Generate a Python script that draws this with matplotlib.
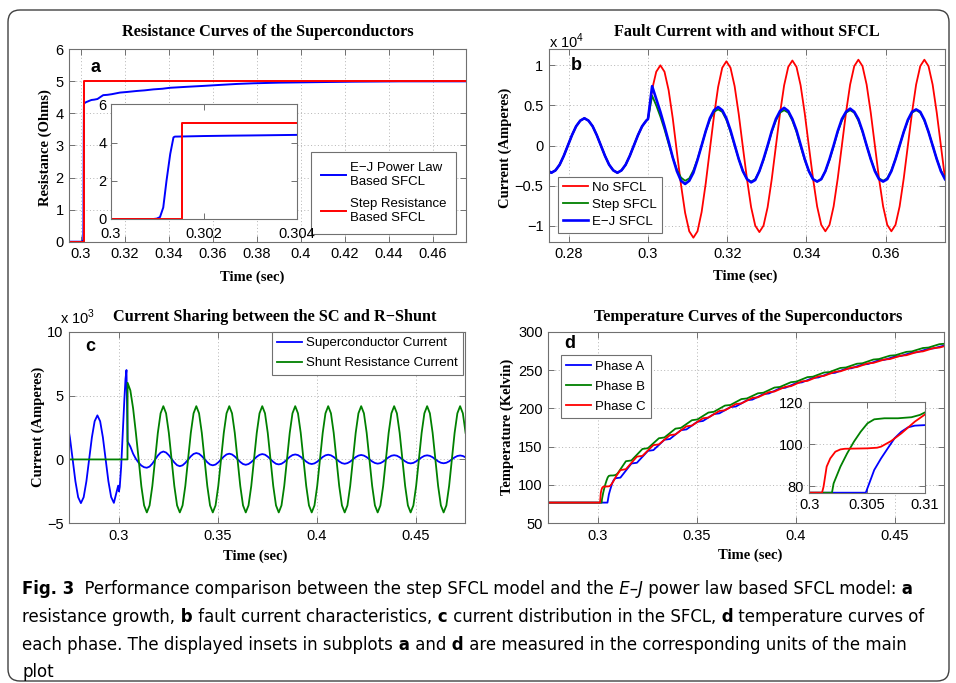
import numpy as np
import matplotlib
matplotlib.use("Agg")
import matplotlib.pyplot as plt
from matplotlib import font_manager
from matplotlib.ticker import FuncFormatter
from matplotlib.patches import FancyBboxPatch
from matplotlib.transforms import IdentityTransform

plt.rcParams['font.family'] = ['Liberation Sans', 'DejaVu Sans']
plt.rcParams['mathtext.fontset'] = 'custom'
plt.rcParams['mathtext.rm'] = 'Liberation Sans'

RED, GREEN, BLUE = '#ff0000', '#008000', '#0000ff'
FRAME = '#707070'
SERIF = 'Liberation Serif'

# ---------------- (a) resistance of the superconductor ----------------
t_ej = [0.2947, 0.30092, 0.30099, 0.30106, 0.30113, 0.30120, 0.30128, 0.30135,
        0.30138, 0.3016, 0.3020, 0.3026, 0.3030, 0.3040, 0.3048, 0.3060, 0.3075,
        0.3090, 0.3101, 0.3120, 0.3140, 0.3177, 0.3210, 0.3253, 0.3290, 0.3329,
        0.3370, 0.3405, 0.3480, 0.3560, 0.3633, 0.3710, 0.3784, 0.3900, 0.4011,
        0.4120, 0.4239, 0.4350, 0.4450, 0.4600, 0.4750]
r_ej = [0, 0, 0.02, 0.10, 0.6, 2.0, 3.4, 4.27,
        4.31, 4.32, 4.34, 4.36, 4.37, 4.40, 4.42, 4.43, 4.45,
        4.52, 4.57, 4.58, 4.60, 4.65, 4.67, 4.70, 4.72, 4.75,
        4.77, 4.80, 4.83, 4.86, 4.89, 4.92, 4.94, 4.96, 4.97,
        4.98, 4.99, 4.995, 5.0, 5.0, 5.0]
t_step = [0.2947, 0.30154, 0.30154, 0.475]
r_step = [0, 0, 5, 5]

# ---------------- (b) fault current, x 10^4 A ----------------
DT_B = (1 / 60) / 16
t0_pre_b = 0.27456
t0_flt_b = 0.3
pre_b = [-0.31, -0.34, -0.31, -0.24, -0.13, 0.0, 0.13, 0.24, 0.31, 0.34, 0.31,
         0.24, 0.13, 0.0, -0.13, -0.24, -0.31, -0.34, -0.31, -0.24, -0.13, 0.0,
         0.13, 0.24, 0.31]
no_sfcl = [0.33, 0.70, 0.92, 1.00, 0.92, 0.69, 0.34, -0.08, -0.49, -0.84, -1.07, -1.15,
           -1.07, -0.83, -0.47, -0.05, 0.37, 0.73, 0.97, 1.05,
           0.97, 0.74, 0.39, -0.02, -0.42, -0.77, -1.00, -1.08,
           -1.00, -0.77, -0.42, -0.01, 0.40, 0.75, 0.98, 1.06,
           0.98, 0.75, 0.40, -0.01, -0.41, -0.76, -0.99, -1.07,
           -0.99, -0.76, -0.41, 0.00, 0.41, 0.76, 0.99, 1.07,
           0.99, 0.76, 0.41, 0.00, -0.41, -0.76, -0.99, -1.07,
           -0.99, -0.76, -0.41, 0.00, 0.41, 0.76, 0.99, 1.07,
           0.99, 0.76, 0.41, 0.00, -0.41]
step_sfcl = [0.33, 0.62, 0.50, 0.36, 0.20, 0.02, -0.15, -0.30, -0.40, -0.44,
             -0.41, -0.31, -0.17, 0.0, 0.18, 0.32, 0.42, 0.45,
             0.42, 0.32, 0.17, 0.0, -0.17, -0.32, -0.42, -0.45,
             -0.42, -0.32, -0.18, -0.01, 0.17, 0.31, 0.41, 0.44,
             0.41, 0.31, 0.17, -0.01, -0.18, -0.32, -0.42, -0.45,
             -0.42, -0.32, -0.18, -0.01, 0.17, 0.31, 0.41, 0.44,
             0.41, 0.31, 0.17, 0.0, -0.17, -0.31, -0.41, -0.44,
             -0.41, -0.31, -0.17, 0.0, 0.17, 0.31, 0.41, 0.44,
             0.41, 0.31, 0.17, 0.0, -0.17, -0.31, -0.41]
ej_sfcl = [0.33, 0.74, 0.58, 0.42, 0.24, 0.05, -0.15, -0.32, -0.44, -0.48,
           -0.44, -0.34, -0.18, 0.0, 0.18, 0.34, 0.44, 0.48,
           0.44, 0.34, 0.19, 0.01, -0.17, -0.32, -0.42, -0.46,
           -0.43, -0.32, -0.17, 0.0, 0.18, 0.33, 0.43, 0.47,
           0.43, 0.33, 0.19, 0.01, -0.17, -0.32, -0.42, -0.45,
           -0.42, -0.32, -0.17, 0.0, 0.18, 0.33, 0.42, 0.46,
           0.42, 0.33, 0.18, 0.0, -0.17, -0.32, -0.42, -0.45,
           -0.42, -0.32, -0.17, 0.0, 0.17, 0.32, 0.42, 0.45,
           0.42, 0.32, 0.17, 0.0, -0.17, -0.32, -0.42]

# ---------------- (c) current sharing, x 10^3 A ----------------
DT_C = (1 / 60) / 12
t0_c = 0.27253
sc_pre = [3.42, 2.96, 1.71, 0.0, -1.71, -2.96, -3.42, -2.96, -1.71, 0.0, 1.73,
          2.99, 3.45, 2.99, 1.73, 0.0, -1.70, -2.94, -3.40]
t_sc_quench = [0.2993, 0.2997, 0.3001, 0.3005, 0.3012, 0.3020, 0.3028, 0.3034, 0.3039]
sc_quench = [-2.27, -2.05, -2.5, -2.15, -0.6, 2.0, 4.6, 6.3, 7.0]
t0_post_c = 0.30447
sc_post = [1.40, 1.00, 0.45, 0.05, -0.25, -0.48, -0.61, -0.65,
           -0.56, -0.33, -0.02, 0.30, 0.53, 0.62,
           0.54, 0.33, 0.05, -0.24, -0.45, -0.53,
           -0.46, -0.27, -0.02, 0.24, 0.43, 0.50,
           0.44, 0.26, 0.02, -0.22, -0.40, -0.46,
           -0.40, -0.23, -0.01, 0.22, 0.39, 0.45,
           0.39, 0.23, 0.02, -0.20, -0.36, -0.42,
           -0.36, -0.21, 0.0, 0.21, 0.36, 0.42,
           0.37, 0.22, 0.02, -0.19, -0.34, -0.39,
           -0.34, -0.20, 0.0, 0.20, 0.34, 0.39,
           0.34, 0.20, 0.02, -0.17, -0.31, -0.36,
           -0.31, -0.18, 0.01, 0.19, 0.32, 0.37,
           0.32, 0.19, 0.02, -0.16, -0.29, -0.34,
           -0.29, -0.17, 0.01, 0.18, 0.30, 0.35,
           0.30, 0.18, 0.01, -0.16, -0.28, -0.33,
           -0.29, -0.17, 0.0, 0.17, 0.29, 0.33,
           0.29, 0.17, 0.01, -0.15, -0.27, -0.31,
           -0.27, -0.15, 0.01, 0.16, 0.28, 0.32,
           0.28, 0.17, 0.01, -0.15, -0.26, -0.30,
           -0.26, -0.15, 0.0, 0.16, 0.27, 0.31,
           0.27, 0.16]
t_shunt_pre = [0.27253, 0.30440]
shunt_pre = [0.0, 0.0]
shunt_post = [6.00, 5.40, 4.00, 2.10, 0.05, -2.10, -3.60, -4.15,
              -3.60, -2.08, 0.0, 2.08, 3.61, 4.17, 3.61, 2.08, 0.0, -2.08, -3.60, -4.15,
              -3.60, -2.08, 0.0, 2.08, 3.61, 4.17, 3.61, 2.08, 0.0, -2.08, -3.60, -4.15,
              -3.60, -2.08, 0.0, 2.08, 3.61, 4.17, 3.61, 2.08, 0.0, -2.08, -3.60, -4.15,
              -3.60, -2.08, 0.0, 2.08, 3.61, 4.17, 3.61, 2.08, 0.0, -2.08, -3.60, -4.15,
              -3.60, -2.08, 0.0, 2.08, 3.61, 4.17, 3.61, 2.08, 0.0, -2.08, -3.60, -4.15,
              -3.60, -2.08, 0.0, 2.08, 3.61, 4.17, 3.61, 2.08, 0.0, -2.08, -3.60, -4.15,
              -3.60, -2.08, 0.0, 2.08, 3.61, 4.17, 3.61, 2.08, 0.0, -2.08, -3.60, -4.15,
              -3.60, -2.08, 0.0, 2.08, 3.61, 4.17, 3.61, 2.08, 0.0, -2.08, -3.60, -4.15,
              -3.60, -2.08, 0.0, 2.08, 3.61, 4.17, 3.61, 2.08, 0.0, -2.08, -3.60, -4.15,
              -3.60, -2.08, 0.0, 2.08, 3.61, 4.17,
              3.61, 2.08]

# ---------------- (d) temperature, K ----------------
t_phase_a = [0.275, 0.30488, 0.30518, 0.30561, 0.3062, 0.30678, 0.30737, 0.30795,
             0.30854, 0.30912, 0.31015, 0.31142, 0.31698, 0.31976, 0.32531, 0.32809,
             0.33364, 0.33642, 0.34198, 0.34476, 0.35031, 0.35309, 0.35864, 0.36142,
             0.36698, 0.36976, 0.37531, 0.37809, 0.38364, 0.38642, 0.39198, 0.39476,
             0.40031, 0.40309, 0.40864, 0.41142, 0.41698, 0.41976, 0.42531, 0.42809,
             0.43364, 0.43642, 0.44198, 0.44476, 0.45031, 0.45309, 0.45864, 0.46142,
             0.46698, 0.46976, 0.47531]
temp_a = [77, 77, 81.4, 87.8, 93.3, 98.1, 102.9, 106.0,
          108.1, 108.9, 109.2, 109.6, 128.0, 129.0, 144.5, 145.5,
          159.0, 160.0, 171.5, 172.5, 182.5, 183.5, 192.5, 193.5,
          201.6, 202.4, 210.6, 211.4, 218.6, 219.4, 226.1, 226.9,
          233.1, 233.9, 239.7, 240.3, 245.7, 246.3, 251.7, 252.3,
          257.2, 257.8, 262.7, 263.3, 267.7, 268.3, 272.7, 273.3,
          277.7, 278.3, 282.2]
t_phase_b = [0.275, 0.30196, 0.3021, 0.30269, 0.30327, 0.30386, 0.30444, 0.30503,
             0.30561, 0.30649, 0.30766, 0.30883, 0.30956, 0.31015, 0.3142, 0.31698,
             0.32254, 0.32532, 0.33087, 0.33365, 0.33921, 0.34199, 0.34754, 0.35032,
             0.35587, 0.35865, 0.36421, 0.36699, 0.37254, 0.37532, 0.38087, 0.38365,
             0.38921, 0.39199, 0.39754, 0.40032, 0.40587, 0.40865, 0.41421, 0.41699,
             0.42254, 0.42532, 0.43087, 0.43365, 0.43921, 0.44199, 0.44754, 0.45032,
             0.45587, 0.45865, 0.46421, 0.46699, 0.47254, 0.47532]
temp_b = [77, 77, 81.4, 89.4, 95.7, 101.3, 106.0, 110.0,
          111.9, 112.4, 112.4, 112.9, 114.0, 115.6, 131.0, 132.0,
          147.0, 148.0, 161.0, 162.0, 173.5, 174.5, 184.5, 185.5,
          194.5, 195.5, 203.6, 204.4, 212.1, 212.9, 219.6, 220.4,
          227.1, 227.9, 234.1, 234.9, 240.7, 241.3, 246.7, 247.3,
          252.7, 253.3, 258.2, 258.8, 263.7, 264.3, 268.7, 269.3,
          273.7, 274.3, 278.7, 279.3, 283.7, 284.3]
t_phase_c = [0.275, 0.3011, 0.30123, 0.3015, 0.30181, 0.30225, 0.30269, 0.30308,
             0.30503, 0.30586, 0.3062, 0.30708, 0.30795, 0.30912, 0.31015, 0.31141,
             0.31419, 0.31974, 0.32252, 0.32808, 0.33086, 0.33641, 0.33919, 0.34474,
             0.34752, 0.35308, 0.35586, 0.36141, 0.36419, 0.36974, 0.37252, 0.37808,
             0.38086, 0.38641, 0.38919, 0.39474, 0.39752, 0.40308, 0.40586, 0.41141,
             0.41419, 0.41974, 0.42252, 0.42808, 0.43086, 0.43641, 0.43919, 0.44474,
             0.44752, 0.45308, 0.45586, 0.46141, 0.46419, 0.46974, 0.47252, 0.47808]
temp_c = [77, 77, 79.8, 89.4, 93.3, 96.5, 97.6, 97.9,
          98.1, 98.4, 98.9, 101.6, 105.2, 110.8, 114.8, 119.4,
          120.6, 137.0, 138.0, 152.0, 153.0, 165.0, 166.0, 176.5,
          177.5, 187.0, 188.0, 196.6, 197.4, 205.6, 206.4, 213.6,
          214.4, 221.1, 221.9, 228.1, 228.9, 235.2, 235.8, 241.7,
          242.3, 247.7, 248.3, 253.2, 253.8, 258.7, 259.3, 263.7,
          264.3, 268.7, 269.3, 273.7, 274.3, 278.7, 279.3, 283.3]

caption = [
    [("Fig. 3", 'b'), ("  Performance comparison between the step SFCL model and the", 'n'),
     (" E\u2013J", 'i'), (" power law based SFCL model:", 'n'), (" a", 'b')],
    [("resistance growth,", 'n'), (" b", 'b'), (" fault current characteristics,", 'n'),
     (" c", 'b'), (" current distribution in the SFCL,", 'n'), (" d", 'b'),
     (" temperature curves of", 'n')],
    [("each phase. The displayed insets in subplots", 'n'), (" a", 'b'), (" and", 'n'),
     (" d", 'b'), (" are measured in the corresponding units of the main", 'n')],
    [("plot", 'n')],
]
caption_widths = [918, 900, 890, 40]

# ---------------------------------------------------------------------
W, H = 956, 683
fig = plt.figure(figsize=(W / 100, H / 100), dpi=100)


def box(l, t, r, b):
    return [l / W, 1 - b / H, (r - l) / W, (b - t) / H]


def ftext(x, y, s, **kw):
    return fig.text(x / W, 1 - y / H, s, **kw)


num_fmt = FuncFormatter(lambda v, p: ('%g' % round(v, 6)).replace('-', '\u2212'))


def frame(ax, grid=True, size=10.5):
    for sp in ax.spines.values():
        sp.set_color(FRAME)
        sp.set_linewidth(0.8)
    ax.tick_params(direction='in', top=True, right=True, length=4, width=0.7,
                   color=FRAME, labelsize=size, pad=4)
    ax.xaxis.set_major_formatter(num_fmt)
    ax.yaxis.set_major_formatter(num_fmt)
    if grid:
        ax.grid(True, linestyle=(0, (1, 2.5)), color='#b4b4b4', linewidth=0.7)
    ax.set_axisbelow(True)


def legend(ax, **kw):
    lg = ax.legend(fancybox=False, framealpha=1, edgecolor=FRAME, fontsize=9.5,
                   borderaxespad=0, handlelength=1.9, handletextpad=0.3, **kw)
    lg.get_frame().set_linewidth(0.8)
    return lg


def titles(xc, yc, title, xl_xy, xlabel, yl_xy, ylabel):
    ftext(xc, yc, title, family=SERIF, weight='bold', fontsize=11.7, ha='center', va='center')
    ftext(*xl_xy, xlabel, family=SERIF, weight='bold', fontsize=10.5, ha='center', va='center')
    ftext(*yl_xy, ylabel, family=SERIF, weight='bold', fontsize=10.5, ha='center',
          va='center', rotation=90)


def letter(ax, x, y, s):
    ax.text(x, y, s, transform=ax.transAxes, fontsize=13, weight='bold',
            ha='center', va='center')


# ---- (a)
ax = fig.add_axes(box(69.3, 49.3, 466, 241.7))
ax.plot(t_ej, r_ej, color=BLUE, lw=1.4, label='E\u2212J Power Law\nBased SFCL')
ax.plot(t_step, r_step, color=RED, lw=1.4, label='Step Resistance\nBased SFCL')
ax.set_xlim(0.2947, 0.475)
ax.set_ylim(0, 6)
ax.set_xticks(np.arange(0.30, 0.461, 0.02))
ax.set_yticks(range(0, 7))
frame(ax)
legend(ax, loc='lower right', bbox_to_anchor=(0.975, 0.04), labelspacing=0.8,
       borderpad=0.75)
letter(ax, 0.065, 0.908, 'a')
titles(268, 32.5, 'Resistance Curves of the Superconductors',
       (252, 277), 'Time (sec)', (45, 148), 'Resistance (Ohms)')

ins = fig.add_axes(box(110.7, 104.3, 296.7, 219))
ins.plot(t_ej, r_ej, color=BLUE, lw=1.4)
ins.plot(t_step, r_step, color=RED, lw=1.4)
ins.set_xlim(0.3, 0.304)
ins.set_ylim(0, 6)
ins.set_xticks([0.3, 0.302, 0.304])
ins.set_yticks([0, 2, 4, 6])
frame(ins, grid=False)
ins.tick_params(axis='x', pad=6)
ins.tick_params(axis='y', pad=3)

# ---- (b)
ax = fig.add_axes(box(549, 49.3, 945, 241.7))
t_pre = t0_pre_b + DT_B * np.arange(len(pre_b))
t_flt = t0_flt_b + DT_B * np.arange(len(no_sfcl))
for vals, col, lw, lab in [(no_sfcl, RED, 1.3, 'No SFCL'), (step_sfcl, GREEN, 1.3, 'Step SFCL'),
                           (ej_sfcl, BLUE, 1.9, 'E\u2212J SFCL')]:
    ax.plot(np.concatenate([t_pre, t_flt]), np.concatenate([pre_b, vals]),
            color=col, lw=lw, label=lab)
ax.set_xlim(0.275, 0.375)
ax.set_ylim(-1.2, 1.2)
ax.set_xticks([0.28, 0.30, 0.32, 0.34, 0.36])
ax.set_yticks([-1, -0.5, 0, 0.5, 1])
frame(ax)
legend(ax, loc='lower left', bbox_to_anchor=(0.023, 0.045), labelspacing=0.35)
letter(ax, 0.07, 0.918, 'b')
ftext(549, 41, r'x 10$^4$', fontsize=10.5, ha='left', va='center')
titles(747, 32.5, 'Fault Current with and without SFCL',
       (745, 276.5), 'Time (sec)', (505, 148), 'Current (Amperes)')

# ---- (c)
ax = fig.add_axes(box(69.3, 331.7, 465, 523.3))
t_grid_c = t0_c + DT_C * np.arange(len(sc_pre))
t_post_c = t0_post_c + DT_C * np.arange(len(sc_post))
ax.plot(np.concatenate([t_grid_c, t_sc_quench, t_post_c]),
        np.concatenate([sc_pre, sc_quench, sc_post]),
        color=BLUE, lw=1.3, label='Superconductor Current')
ax.plot(np.concatenate([t_shunt_pre, t0_post_c + DT_C * np.arange(len(shunt_post))]),
        np.concatenate([shunt_pre, shunt_post]),
        color=GREEN, lw=1.3, label='Shunt Resistance Current')
ax.set_xlim(0.275, 0.475)
ax.set_ylim(-5, 10)
ax.set_xticks([0.30, 0.35, 0.40, 0.45])
ax.set_yticks([-5, 0, 5, 10])
frame(ax)
legend(ax, loc='upper right', bbox_to_anchor=(0.995, 1.0), labelspacing=0.6)
letter(ax, 0.052, 0.922, 'c')
ftext(60, 317, r'x 10$^3$', fontsize=10.5, ha='left', va='center')
titles(275, 317, 'Current Sharing between the SC and R\u2212Shunt',
       (255, 556.5), 'Time (sec)', (38, 427), 'Current (Amperes)')

# ---- (d)
ax = fig.add_axes(box(548.3, 331.7, 944.3, 523.3))
phases = [(t_phase_a, temp_a, BLUE, 'Phase A'), (t_phase_b, temp_b, GREEN, 'Phase B'),
          (t_phase_c, temp_c, RED, 'Phase C')]
for tt, vv, col, lab in phases:
    ax.plot(tt, vv, color=col, lw=1.3, label=lab)
ax.set_xlim(0.275, 0.475)
ax.set_ylim(50, 300)
ax.set_xticks([0.30, 0.35, 0.40, 0.45])
ax.set_yticks(range(50, 301, 50))
frame(ax)
legend(ax, loc='upper left', bbox_to_anchor=(0.032, 0.878), labelspacing=0.6)
letter(ax, 0.053, 0.939, 'd')
titles(748, 317, 'Temperature Curves of the Superconductors',
       (750, 555), 'Time (sec)', (507, 427), 'Temperature (Kelvin)')

ins = fig.add_axes(box(809.3, 402.3, 925, 492.7))
for tt, vv, col, lab in phases:
    ins.plot(tt, vv, color=col, lw=1.3)
ins.set_xlim(0.3, 0.31)
ins.set_ylim(77, 120)
ins.set_xticks([0.3, 0.305, 0.31])
ins.set_yticks([80, 100, 120])
frame(ins)

# ---- caption (condensed face when one is installed)
has_cond = any(f.name == 'DejaVu Sans' and 'condensed' in str(f.stretch)
               for f in font_manager.fontManager.ttflist)
if has_cond:
    CAP = dict(family='DejaVu Sans', fontstretch='condensed')
else:
    CAP = dict(family=['Liberation Sans'])
renderer = fig.canvas.get_renderer()


def piece_width(s, kind, size):
    t = fig.text(0, 0, s, fontsize=size,
                 fontweight='bold' if kind == 'b' else 'normal',
                 fontstyle='italic' if kind == 'i' else 'normal', **CAP)
    w = t.get_window_extent(renderer).width
    t.remove()
    return w


cap_size = 12.0
cap_size = cap_size * min(target / sum(piece_width(s, k, cap_size) for s, k in line)
                          for line, target in zip(caption[:3], caption_widths[:3]))

for line, y in zip(caption, [594, 622, 650, 677]):
    x = 22
    for s, k in line:
        ftext(x, y, s, fontsize=cap_size, va='baseline',
              fontweight='bold' if k == 'b' else 'normal',
              fontstyle='italic' if k == 'i' else 'normal', **CAP)
        x += piece_width(s, k, cap_size)

border = FancyBboxPatch((8, H - 681), 941, 671, boxstyle='round,pad=0,rounding_size=12',
                        transform=IdentityTransform(), fill=False, ec='#404040', lw=1.0)
fig.add_artist(border)

fig.savefig('out.png', dpi=100)
